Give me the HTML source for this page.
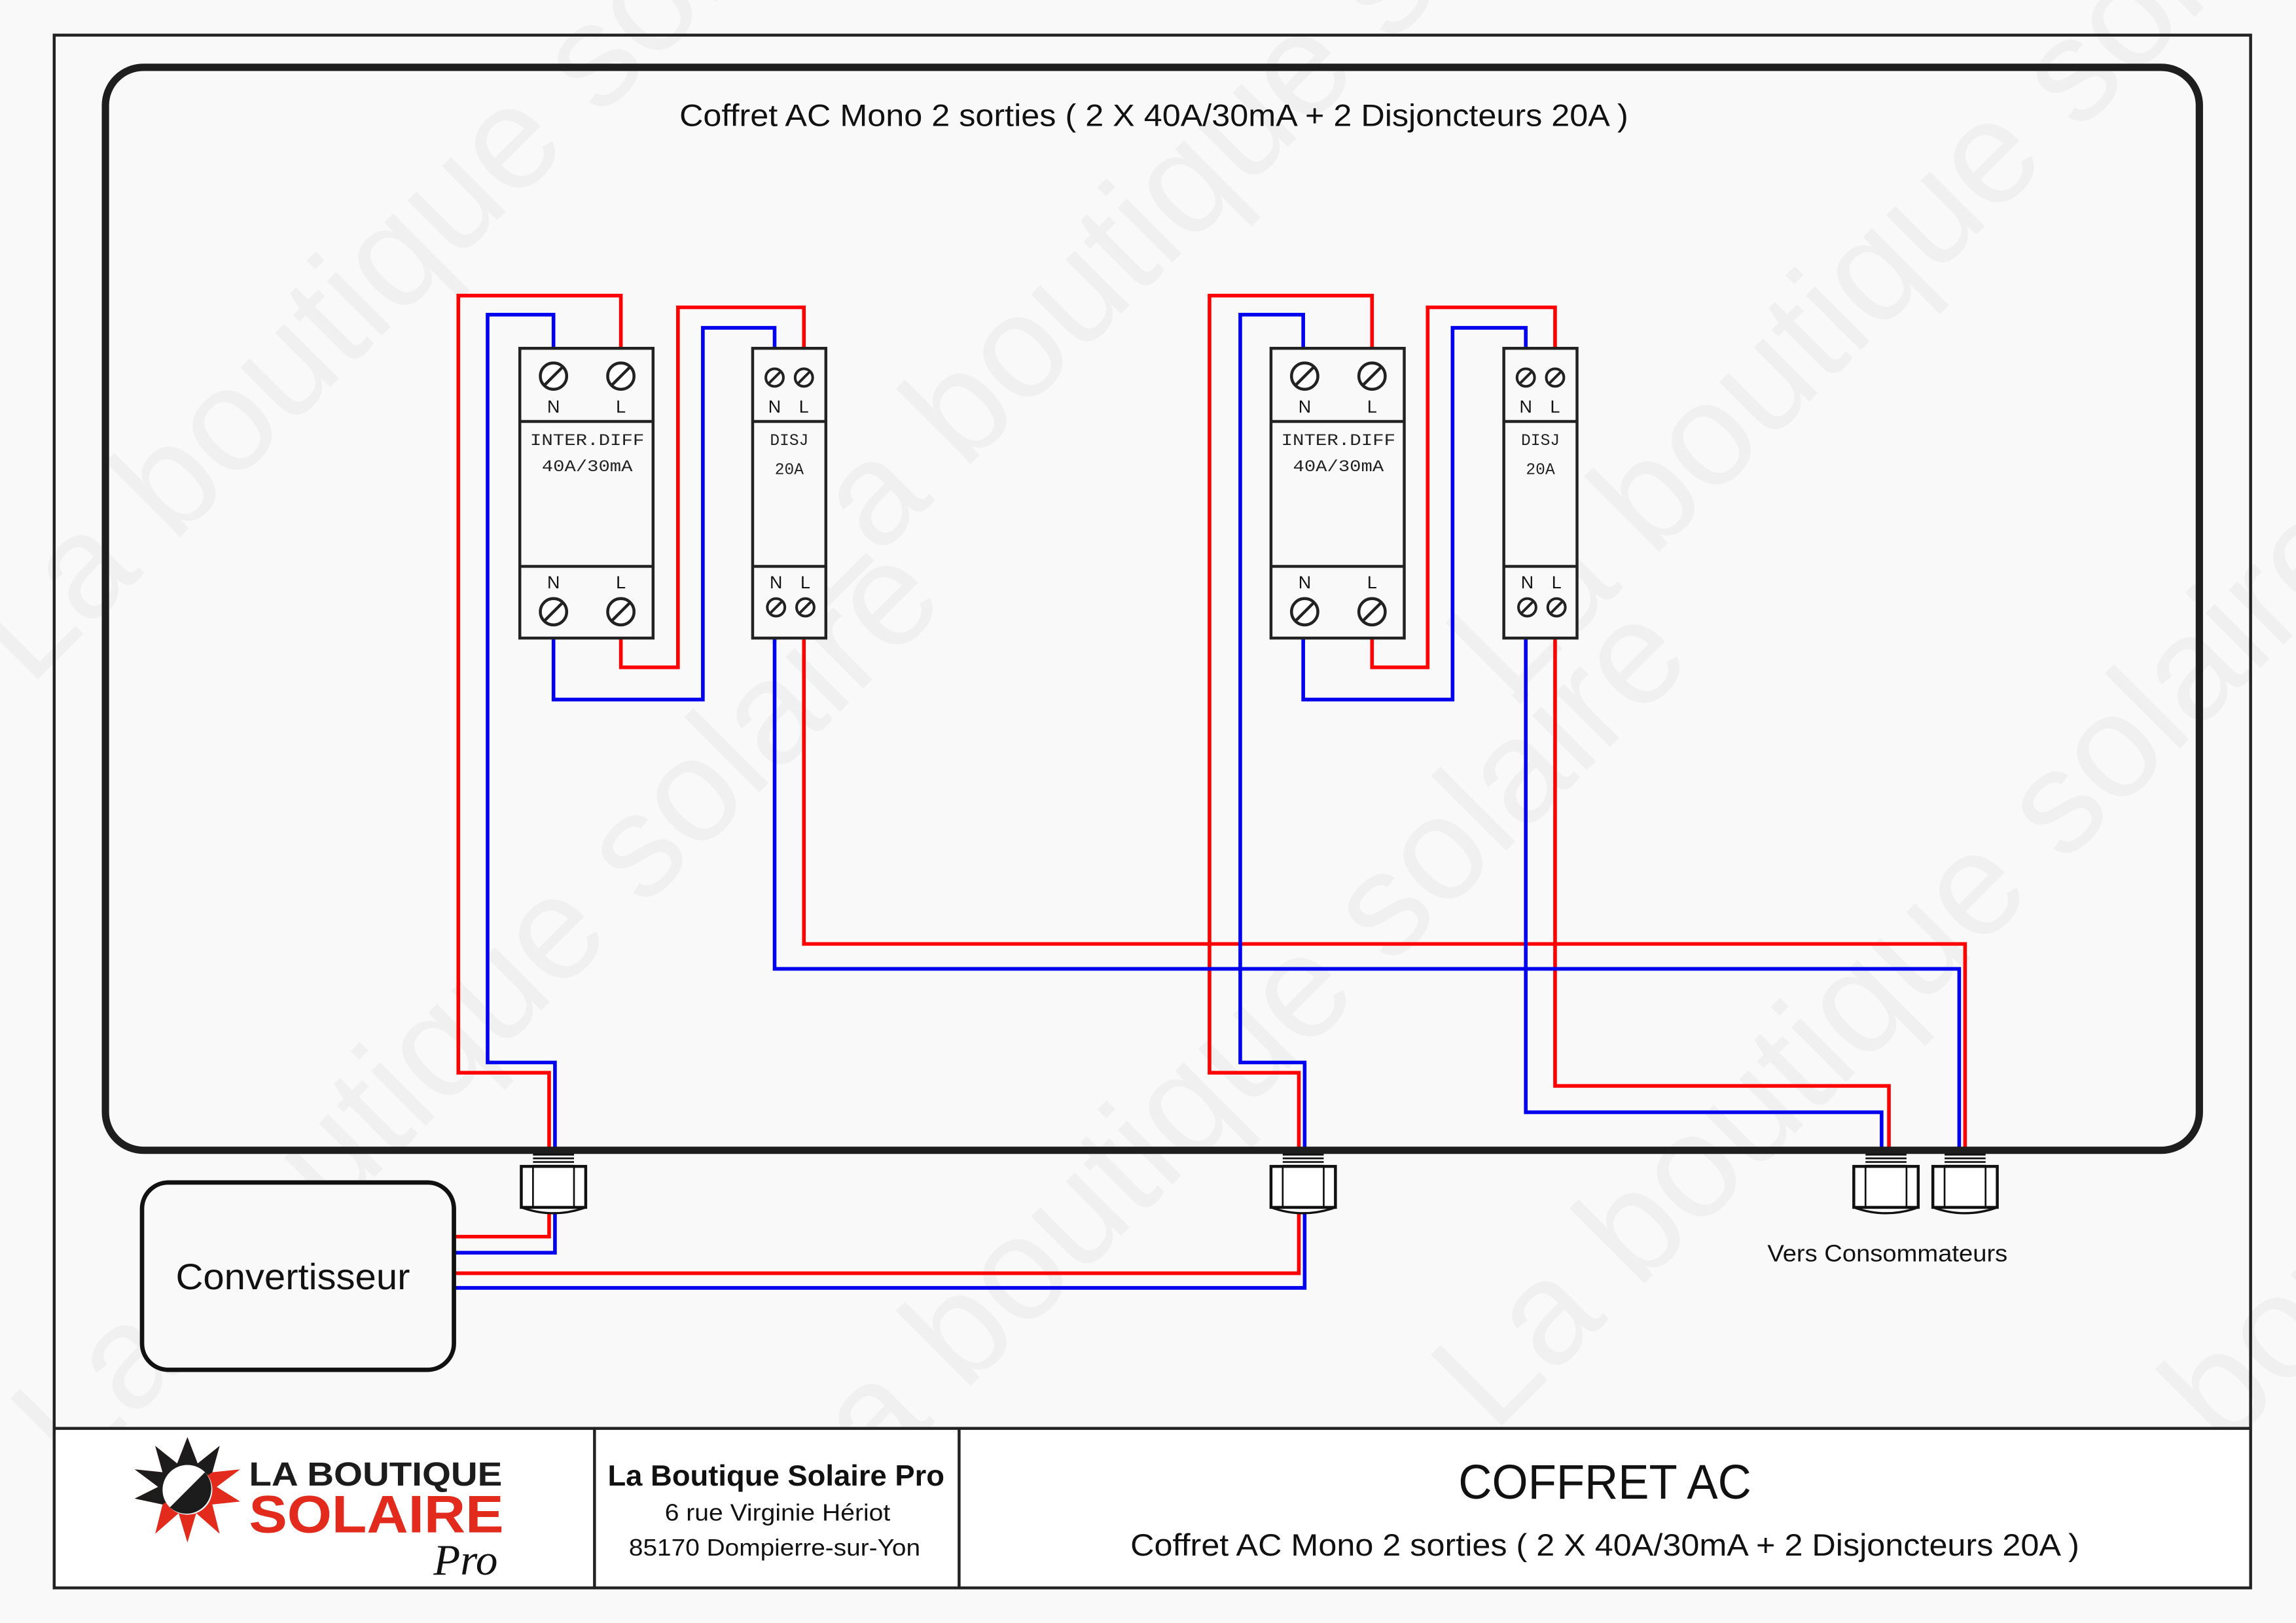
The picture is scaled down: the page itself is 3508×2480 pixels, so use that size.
<!DOCTYPE html>
<html><head><meta charset="utf-8"><style>
html,body{margin:0;padding:0;background:#f9f9f9}
svg{display:block}
</style></head><body>
<svg width="3508" height="2480" viewBox="0 0 1568 1109" preserveAspectRatio="none" xmlns="http://www.w3.org/2000/svg">
<rect x="0" y="0" width="1568" height="1109" fill="#f9f9f9"/>
<!-- watermarks -->
<g font-family="Liberation Sans, sans-serif" font-size="100" fill="#f0f0f0">
<text transform="translate(20,470) rotate(-45)">La boutique solaire</text>
<text transform="translate(560,420) rotate(-45)">La boutique solaire</text>
<text transform="translate(1030,480) rotate(-45)">La boutique solaire</text>
<text transform="translate(50,1010) rotate(-45)">La boutique solaire</text>
<text transform="translate(560,1050) rotate(-45)">La boutique solaire</text>
<text transform="translate(1020,980) rotate(-45)">La boutique solaire</text>
<text transform="translate(1420,1090) rotate(-45)">La boutique</text>
</g>
<!-- outer frame -->
<rect x="37" y="24" width="1500" height="1061" fill="none" stroke="#222" stroke-width="2"/>
<rect x="38" y="977" width="1498" height="107" fill="#fff"/>
<line x1="37" y1="976" x2="1537" y2="976" stroke="#222" stroke-width="2"/>
<line x1="406" y1="976" x2="406" y2="1085" stroke="#222" stroke-width="2"/>
<line x1="655" y1="976" x2="655" y2="1085" stroke="#222" stroke-width="2"/>

<text x="788" y="86" text-anchor="middle" font-family="Liberation Sans, sans-serif" font-size="21" fill="#111" textLength="648" lengthAdjust="spacingAndGlyphs">Coffret AC Mono 2 sorties ( 2 X 40A/30mA  + 2 Disjoncteurs 20A )</text>

<!-- wires -->
<g fill="none" stroke-width="2.5" stroke-linejoin="miter">
<g stroke="#ff0000">
<polyline points="424,238 424,202 313,202 313,733 375,733 375,786"/>
<polyline points="424,436 424,456 463,456 463,210 549,210 549,238"/>
<polyline points="549,436 549,645 1342,645 1342,786"/>
<polyline points="937,238 937,202 826,202 826,733 887,733 887,786"/>
<polyline points="937,436 937,456 975,456 975,210 1062,210 1062,238"/>
<polyline points="1062,436 1062,742 1290,742 1290,786"/>
<polyline points="375,829 375,845 310,845"/>
<polyline points="887,829 887,870 310,870"/>
</g>
<g stroke="#0000ee">
<polyline points="378,238 378,215 333,215 333,726 379,726 379,786"/>
<polyline points="378,436 378,478 480,478 480,224 529,224 529,238"/>
<polyline points="529,436 529,662 1338,662 1338,786"/>
<polyline points="890,238 890,215 847,215 847,726 891,726 891,786"/>
<polyline points="890,436 890,478 992,478 992,224 1042,224 1042,238"/>
<polyline points="1042,436 1042,760 1285,760 1285,786"/>
<polyline points="379,829 379,856 310,856"/>
<polyline points="891,829 891,880 310,880"/>
</g>
</g>
<!-- enclosure -->
<rect x="72" y="46" width="1430" height="740" rx="26" fill="none" stroke="#1e1e1e" stroke-width="5"/>

<!-- glands -->
<defs>
<g id="gland" fill="none" stroke="#111">
<g stroke-width="1.2"><line x1="-14" y1="789" x2="14" y2="789"/><line x1="-14" y1="791.5" x2="14" y2="791.5"/><line x1="-14" y1="794" x2="14" y2="794"/><line x1="-14" y1="796.5" x2="14" y2="796.5"/></g>
<rect x="-22" y="797" width="44" height="28" fill="#fff" stroke-width="2"/>
<line x1="-14" y1="797" x2="-14" y2="825" stroke-width="1.2"/>
<line x1="14" y1="797" x2="14" y2="825" stroke-width="1.2"/>
<path d="M-22,825 Q0,833 22,825" stroke-width="1.5"/>
</g>
<g id="screwL"><circle r="9" fill="#fff" stroke="#222" stroke-width="2"/><line x1="-6" y1="6" x2="6" y2="-6" stroke="#222" stroke-width="2"/></g>
<g id="screwS"><circle r="6" fill="#fff" stroke="#222" stroke-width="1.8"/><line x1="-4" y1="4" x2="4" y2="-4" stroke="#222" stroke-width="1.8"/></g>
<g id="inter">
<rect x="0" y="238" width="91" height="198" fill="#f9f9f9" stroke="#222" stroke-width="2"/>
<line x1="0" y1="288" x2="91" y2="288" stroke="#222" stroke-width="2"/>
<line x1="0" y1="387" x2="91" y2="387" stroke="#222" stroke-width="2"/>
<use href="#screwL" x="23" y="257"/><use href="#screwL" x="69" y="257"/>
<use href="#screwL" x="23" y="418"/><use href="#screwL" x="69" y="418"/>
<g font-family="Liberation Sans, sans-serif" font-size="12" text-anchor="middle" fill="#111">
<text x="23" y="282">N</text><text x="69" y="282">L</text>
<text x="23" y="402">N</text><text x="69" y="402">L</text></g>
<g font-family="Liberation Mono, monospace" font-size="11" text-anchor="middle" fill="#222">
<text x="46" y="304" textLength="78" lengthAdjust="spacingAndGlyphs">INTER.DIFF</text><text x="46" y="322" textLength="62" lengthAdjust="spacingAndGlyphs">40A/30mA</text></g>
</g>
<g id="disj">
<rect x="0" y="238" width="50" height="198" fill="#f9f9f9" stroke="#222" stroke-width="2"/>
<line x1="0" y1="288" x2="50" y2="288" stroke="#222" stroke-width="2"/>
<line x1="0" y1="387" x2="50" y2="387" stroke="#222" stroke-width="2"/>
<use href="#screwS" x="15" y="258"/><use href="#screwS" x="35" y="258"/>
<use href="#screwS" x="16" y="415"/><use href="#screwS" x="36" y="415"/>
<g font-family="Liberation Sans, sans-serif" font-size="12" text-anchor="middle" fill="#111">
<text x="15" y="282">N</text><text x="35" y="282">L</text>
<text x="16" y="402">N</text><text x="36" y="402">L</text></g>
<g font-family="Liberation Mono, monospace" font-size="11" text-anchor="middle" fill="#222">
<text x="25" y="304">DISJ</text><text x="25" y="324">20A</text></g>
</g>
</defs>
<use href="#gland" x="378"/>
<use href="#gland" x="890"/>
<use href="#gland" x="1288"/>
<use href="#gland" x="1342"/>
<use href="#inter" x="355"/>
<use href="#disj" x="514"/>
<use href="#inter" x="868"/>
<use href="#disj" x="1027"/>

<text x="1289" y="862" text-anchor="middle" font-family="Liberation Sans, sans-serif" font-size="16" fill="#111" textLength="164" lengthAdjust="spacingAndGlyphs">Vers Consommateurs</text>

<!-- converter -->
<rect x="97" y="808" width="213" height="128" rx="18" fill="#f9f9f9" stroke="#111" stroke-width="3"/>
<text x="200" y="881" text-anchor="middle" font-family="Liberation Sans, sans-serif" font-size="25" fill="#111" textLength="160" lengthAdjust="spacingAndGlyphs">Convertisseur</text>

<!-- logo -->
<g transform="translate(128,1018)">
<polygon points="0,-36 7,-18 22,-30 17,-12 36,-14 20,-2 36,8 17,10 22,30 6,16 0,36 -6,16 -22,30 -17,10 -36,6 -20,-2 -36,-14 -17,-12 -22,-30 -7,-18" fill="#e22b1c"/>
<polygon points="0,-36 7,-18 22,-30 17,-12 -17,10 -36,6 -20,-2 -36,-14 -17,-12 -22,-30 -7,-18" fill="#1c1c1c"/>
<circle r="17" fill="#fff"/>
<path d="M12,-12 A17,17 0 0 1 -12,12 Z" fill="#1c1c1c"/>
</g>
<text x="170" y="1015" font-family="Liberation Sans, sans-serif" font-weight="bold" font-size="23" fill="#1c1c1c" textLength="173" lengthAdjust="spacingAndGlyphs">LA BOUTIQUE</text>
<text x="170" y="1047" font-family="Liberation Sans, sans-serif" font-weight="bold" font-size="36" fill="#e22b1c" textLength="174" lengthAdjust="spacingAndGlyphs">SOLAIRE</text>
<text x="296" y="1076" font-family="Liberation Serif, serif" font-style="italic" font-size="30" fill="#111">Pro</text>

<g font-family="Liberation Sans, sans-serif" text-anchor="middle" fill="#111">
<text x="530" y="1015" font-weight="bold" font-size="20" textLength="230" lengthAdjust="spacingAndGlyphs">La Boutique Solaire Pro</text>
<text x="531" y="1039" font-size="16" textLength="154" lengthAdjust="spacingAndGlyphs">6 rue Virginie Hériot</text>
<text x="529" y="1063" font-size="16" textLength="199" lengthAdjust="spacingAndGlyphs">85170 Dompierre-sur-Yon</text>
<text x="1096" y="1024" font-size="33" textLength="200" lengthAdjust="spacingAndGlyphs">COFFRET AC</text>
<text x="1096" y="1063" font-size="21" textLength="648" lengthAdjust="spacingAndGlyphs">Coffret AC Mono 2 sorties ( 2 X 40A/30mA  + 2 Disjoncteurs 20A )</text>
</g>
</svg>
</body></html>
